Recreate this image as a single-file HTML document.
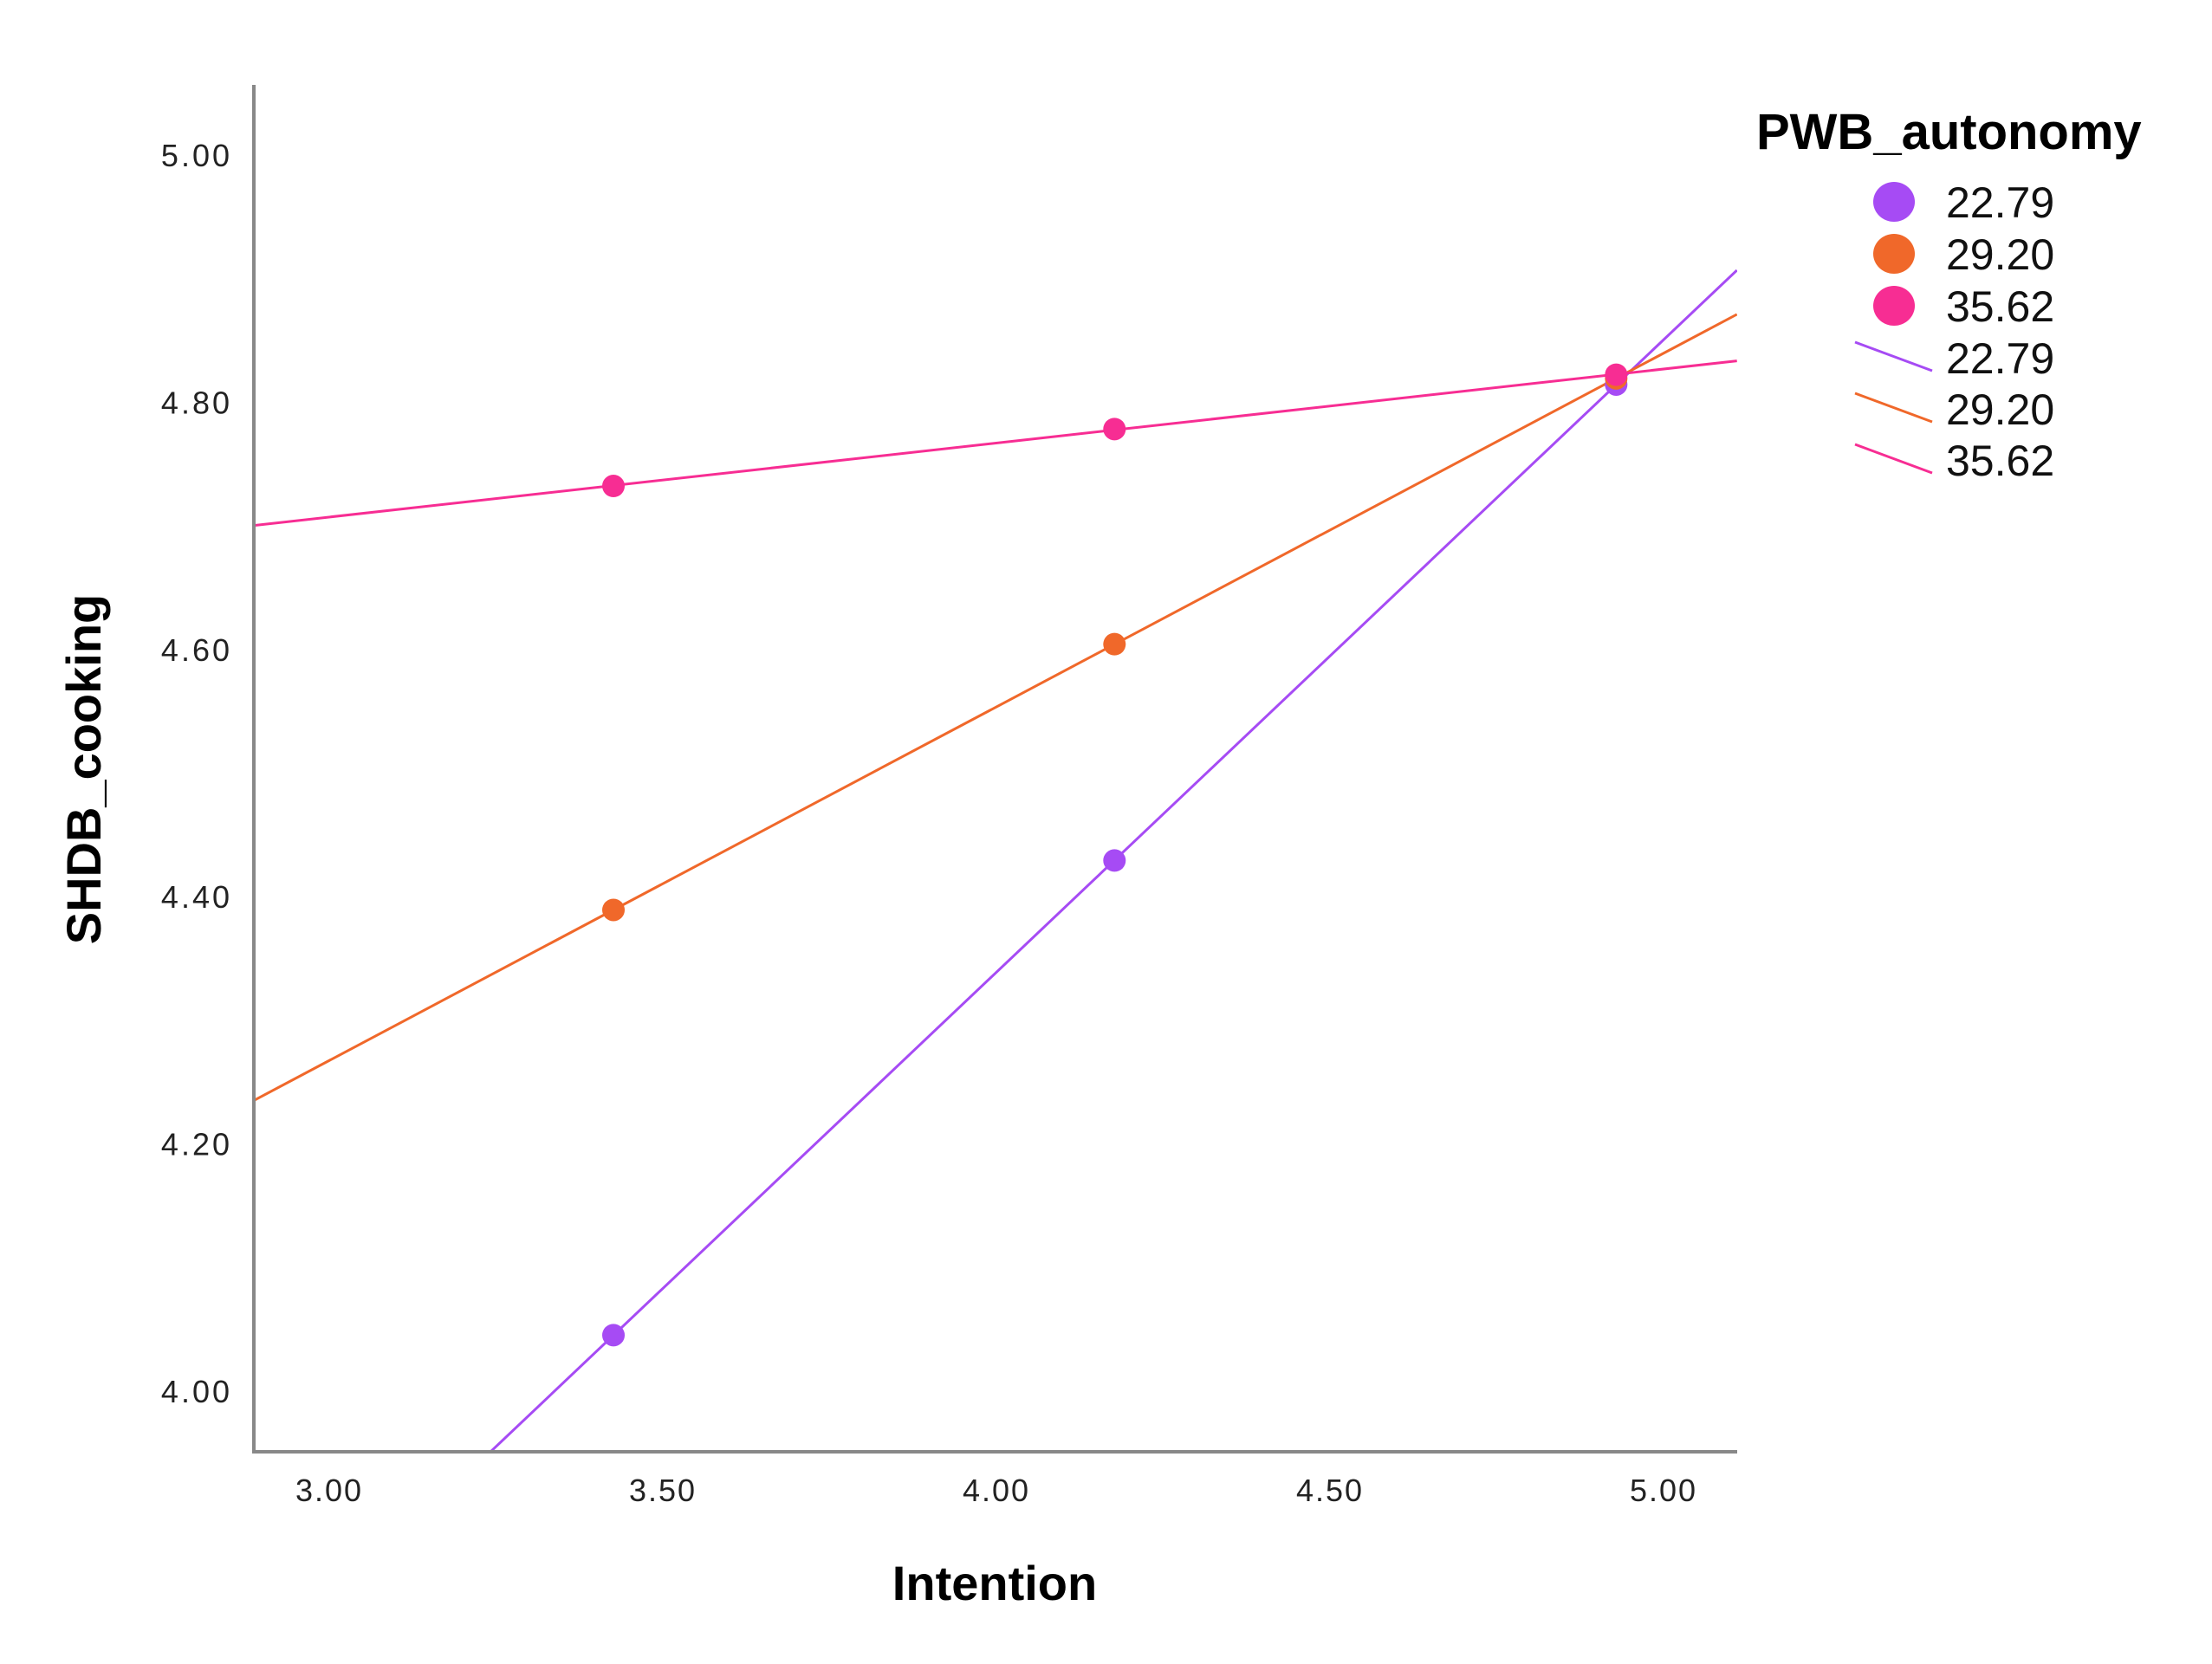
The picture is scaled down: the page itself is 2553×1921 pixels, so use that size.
<!DOCTYPE html>
<html><head><meta charset="utf-8"><style>
html,body{margin:0;padding:0;background:#fff;}
svg{display:block;font-family:"Liberation Sans",sans-serif;}
</style></head><body>
<svg id="chart" width="2553" height="1921" viewBox="0 0 2553 1921">
<defs><clipPath id="plotclip"><rect x="293" y="98" width="1712" height="1578"/></clipPath></defs>
<g id="grid"></g>
<g id="series" clip-path="url(#plotclip)"></g>
<g id="points"></g>
<line x1="293" y1="98" x2="293" y2="1677" stroke="#888" stroke-width="4"/>
<line x1="291" y1="1676" x2="2005" y2="1676" stroke="#888" stroke-width="4"/>
<g id="xticks"></g><g id="yticks"></g>
<text x="1148" y="1847" font-size="56" font-weight="bold" text-anchor="middle">Intention</text>
<text transform="translate(116,888) rotate(-90)" font-size="56" font-weight="bold" text-anchor="middle">SHDB_cooking</text>
<g id="legend">
<text x="2027" y="172" font-size="58" font-weight="bold">PWB_autonomy</text>
</g>
</svg>
<script>
const xValues = [3.426, 4.177, 4.929];
const seriesNames = ["22.79", "29.20", "35.62"];
const purpleValues = [4.046, 4.43, 4.815];
const orangeValues = [4.39, 4.605, 4.82];
const pinkValues = [4.733, 4.779, 4.823];
const xTickLabels = ["3.00", "3.50", "4.00", "4.50", "5.00"];
const yTickLabels = ["4.00", "4.20", "4.40", "4.60", "4.80", "5.00"];
const colors = ["#a64bf4", "#f0682a", "#f72d93"];
const allSeries = [purpleValues, orangeValues, pinkValues];

const xMin = 2.887, xMax = 5.11, yMin = 3.952, yMax = 5.057;
function xs(v){ return 380 + (v - 3) * 770; }
function ys(v){ return 1607 - (v - 4) * 1427; }
const NS = "http://www.w3.org/2000/svg";
function mk(tag, attrs, parent){ const e = document.createElementNS(NS, tag); for (const k in attrs) e.setAttribute(k, attrs[k]); parent.appendChild(e); return e; }

const xt = document.getElementById('xticks');
xTickLabels.forEach(t => {
  const e = mk('text', {x: xs(parseFloat(t)), y: 1733, 'font-size': 36, 'letter-spacing': 2, 'text-anchor': 'middle', fill: '#222'}, xt);
  e.textContent = t;
  
  
});
const yt = document.getElementById('yticks');
yTickLabels.forEach(t => {
  const e = mk('text', {x: 268, y: ys(parseFloat(t)) + 12, 'font-size': 36, 'letter-spacing': 3, 'text-anchor': 'end', fill: '#222'}, yt);
  e.textContent = t;
  
  
});

const sg = document.getElementById('series');
const pg = document.getElementById('points');
allSeries.forEach((vals, i) => {
  const n = vals.length;
  const mx = xValues.reduce((a, b) => a + b, 0) / n;
  const my = vals.reduce((a, b) => a + b, 0) / n;
  let sxy = 0, sxx = 0;
  for (let k = 0; k < n; k++){ sxy += (xValues[k] - mx) * (vals[k] - my); sxx += (xValues[k] - mx) ** 2; }
  const b = sxy / sxx, a = my - b * mx;
  const l = mk('line', {x1: xs(xMin), y1: ys(a + b * xMin), x2: xs(xMax), y2: ys(a + b * xMax), stroke: colors[i], 'stroke-width': 3}, sg);
  
  
  vals.forEach((v, k) => {
    const c = mk('circle', {cx: xs(xValues[k]), cy: ys(v), r: 13, fill: colors[i]}, pg);
    
    
  });
});

const lg = document.getElementById('legend');
seriesNames.forEach((s, i) => {
  const cy = 233 + i * 60;
  const c = mk('ellipse', {cx: 2186, cy: cy, rx: 24, ry: 23, fill: colors[i]}, lg);
  
  
  const t = mk('text', {x: 2246, y: cy + 18, 'font-size': 50, fill: '#111'}, lg);
  t.textContent = s;
  
  
});
seriesNames.forEach((s, i) => {
  const y0 = 395 + i * 59;
  const l = mk('line', {x1: 2141, y1: y0, x2: 2230, y2: y0 + 33, stroke: colors[i], 'stroke-width': 3}, lg);
  
  
  const t = mk('text', {x: 2246, y: y0 + 36, 'font-size': 50, fill: '#111'}, lg);
  t.textContent = s;
  
  
});
</script>
</body></html>
